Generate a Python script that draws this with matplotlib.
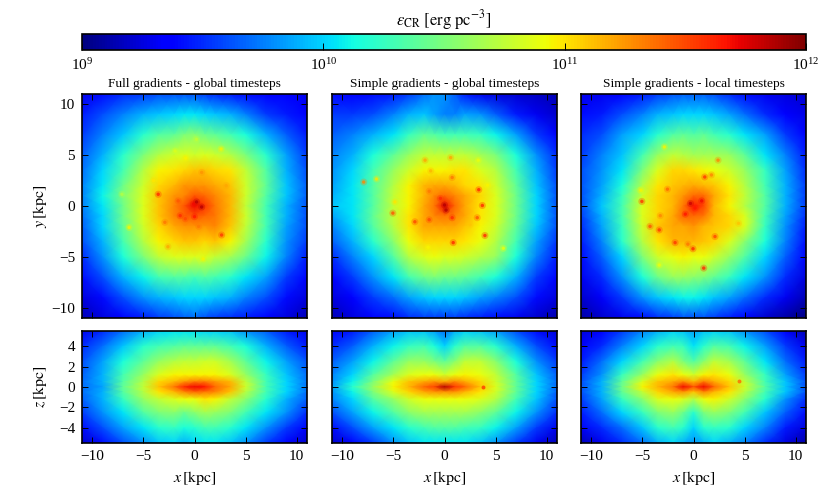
import numpy as np
import matplotlib
matplotlib.use("Agg")
import matplotlib.pyplot as plt
from matplotlib.colors import LogNorm, Normalize
from matplotlib.cm import ScalarMappable

plt.rcParams['font.family'] = ['Liberation Serif', 'DejaVu Serif']
plt.rcParams['mathtext.fontset'] = 'stix'
plt.rcParams['font.size'] = 11

titles = ["Full gradients - global timesteps", "Simple gradients - global timesteps", "Simple gradients - local timesteps"]

# grid nodes in kpc, values are log10(energy density)
x_nodes = [-11, -9, -7, -5, -3.5, -2, -1, 0, 1, 2, 3.5, 5, 7, 9, 11]
y_nodes = [11, 9, 7, 5, 3.5, 2, 1, 0, -1, -2, -3.5, -5, -7, -9, -11]
z_nodes = [5.5, 4, 2.5, 1.2, 0.5, 0, -0.5, -1.2, -2.5, -4, -5.5]

face_full = [
    [9.30, 9.40, 9.50, 9.55, 9.60, 9.62, 9.62, 9.62, 9.55, 9.50, 9.45, 9.40, 9.35, 9.35, 9.30],
    [9.45, 9.60, 9.75, 9.90, 9.95, 10.00, 10.05, 10.05, 10.00, 9.95, 9.90, 9.75, 9.55, 9.45, 9.35],
    [9.55, 9.75, 9.95, 10.20, 10.35, 10.40, 10.50, 10.55, 10.45, 10.40, 10.30, 10.15, 9.90, 9.65, 9.45],
    [9.65, 9.90, 10.20, 10.50, 10.70, 10.80, 10.85, 10.80, 10.85, 10.80, 10.70, 10.50, 10.20, 9.85, 9.55],
    [9.70, 10.00, 10.30, 10.70, 10.95, 11.00, 11.05, 11.10, 11.10, 11.05, 11.00, 10.75, 10.35, 9.90, 9.60],
    [9.75, 10.05, 10.45, 10.80, 11.05, 11.15, 11.25, 11.25, 11.25, 11.20, 11.10, 10.80, 10.40, 9.95, 9.65],
    [9.75, 10.10, 10.50, 10.85, 11.10, 11.25, 11.30, 11.45, 11.40, 11.30, 11.15, 10.80, 10.35, 9.95, 9.65],
    [9.75, 10.05, 10.45, 10.85, 11.10, 11.30, 11.45, 11.70, 11.55, 11.35, 11.15, 10.75, 10.30, 9.90, 9.62],
    [9.70, 10.00, 10.45, 10.85, 11.10, 11.30, 11.40, 11.45, 11.40, 11.35, 11.15, 10.80, 10.30, 9.90, 9.60],
    [9.65, 10.00, 10.40, 10.80, 11.05, 11.20, 11.25, 11.25, 11.25, 11.30, 11.10, 10.75, 10.30, 9.85, 9.60],
    [9.60, 9.90, 10.30, 10.70, 10.95, 11.05, 11.10, 11.10, 11.05, 11.10, 10.95, 10.65, 10.20, 9.80, 9.55],
    [9.50, 9.80, 10.15, 10.50, 10.75, 10.85, 10.85, 10.85, 10.85, 10.75, 10.65, 10.45, 10.10, 9.75, 9.45],
    [9.40, 9.60, 9.90, 10.10, 10.30, 10.35, 10.35, 10.30, 10.35, 10.30, 10.20, 10.05, 9.85, 9.55, 9.35],
    [9.25, 9.40, 9.60, 9.80, 9.90, 9.95, 10.00, 10.00, 10.00, 9.95, 9.90, 9.75, 9.60, 9.40, 9.25],
    [9.15, 9.25, 9.35, 9.45, 9.55, 9.60, 9.65, 9.70, 9.60, 9.55, 9.50, 9.45, 9.35, 9.25, 9.15],
]
face_simple_global = [
    [9.40, 9.35, 9.40, 9.45, 9.55, 9.70, 9.80, 9.80, 9.65, 9.45, 9.30, 9.25, 9.22, 9.18, 9.15],
    [9.55, 9.55, 9.60, 9.75, 9.90, 9.95, 9.85, 9.75, 9.75, 9.85, 9.80, 9.65, 9.45, 9.30, 9.20],
    [9.65, 9.75, 9.90, 10.05, 10.25, 10.40, 10.35, 10.30, 10.30, 10.30, 10.25, 10.10, 9.85, 9.55, 9.35],
    [9.75, 9.90, 10.15, 10.40, 10.60, 10.75, 10.75, 10.75, 10.75, 10.75, 10.65, 10.50, 10.15, 9.80, 9.50],
    [9.80, 10.00, 10.30, 10.60, 10.80, 10.95, 10.95, 10.95, 11.00, 11.00, 10.85, 10.70, 10.30, 9.90, 9.55],
    [9.85, 10.05, 10.35, 10.70, 10.95, 11.15, 11.20, 11.20, 11.15, 11.05, 11.00, 10.80, 10.40, 9.95, 9.60],
    [9.90, 10.05, 10.35, 10.75, 10.95, 11.15, 11.30, 11.40, 11.30, 11.20, 11.05, 10.85, 10.45, 10.00, 9.62],
    [9.95, 10.05, 10.35, 10.75, 10.95, 11.20, 11.35, 11.70, 11.40, 11.20, 11.00, 10.85, 10.45, 10.00, 9.62],
    [9.85, 10.05, 10.40, 10.75, 11.00, 11.20, 11.30, 11.35, 11.30, 11.20, 11.00, 10.85, 10.45, 10.00, 9.62],
    [9.75, 10.00, 10.35, 10.70, 11.00, 11.20, 11.20, 11.20, 11.20, 11.10, 10.95, 10.80, 10.40, 9.95, 9.60],
    [9.65, 9.90, 10.20, 10.55, 10.90, 11.05, 11.05, 11.05, 11.05, 11.00, 10.90, 10.70, 10.30, 9.85, 9.52],
    [9.50, 9.75, 10.00, 10.35, 10.70, 10.85, 10.90, 10.85, 10.85, 10.80, 10.70, 10.60, 10.15, 9.75, 9.45],
    [9.35, 9.55, 9.80, 10.05, 10.30, 10.45, 10.50, 10.45, 10.45, 10.40, 10.30, 10.15, 9.90, 9.55, 9.35],
    [9.25, 9.35, 9.55, 9.70, 9.85, 9.95, 10.00, 10.00, 10.00, 9.95, 9.85, 9.75, 9.60, 9.40, 9.25],
    [9.15, 9.25, 9.35, 9.40, 9.50, 9.55, 9.55, 9.55, 9.55, 9.50, 9.45, 9.40, 9.30, 9.20, 9.12],
]
face_simple_local = [
    [9.30, 9.30, 9.35, 9.45, 9.55, 9.62, 9.65, 9.65, 9.65, 9.60, 9.50, 9.40, 9.30, 9.25, 9.22],
    [9.40, 9.45, 9.60, 9.75, 9.90, 9.95, 10.00, 10.00, 10.00, 9.95, 9.85, 9.70, 9.50, 9.35, 9.28],
    [9.50, 9.60, 9.85, 10.00, 10.20, 10.35, 10.40, 10.35, 10.40, 10.30, 10.20, 10.05, 9.85, 9.55, 9.35],
    [9.55, 9.75, 9.95, 10.30, 10.60, 10.75, 10.70, 10.65, 10.65, 10.65, 10.60, 10.40, 10.05, 9.75, 9.45],
    [9.60, 9.80, 10.05, 10.50, 10.85, 11.05, 11.05, 11.00, 10.95, 10.90, 10.80, 10.60, 10.25, 9.85, 9.50],
    [9.62, 9.85, 10.15, 10.70, 11.00, 11.10, 11.15, 11.20, 11.15, 11.10, 10.95, 10.70, 10.30, 9.90, 9.55],
    [9.60, 9.90, 10.25, 10.80, 11.05, 11.15, 11.25, 11.40, 11.40, 11.20, 11.00, 10.75, 10.35, 9.90, 9.55],
    [9.60, 9.95, 10.30, 10.85, 11.05, 11.15, 11.35, 11.65, 11.50, 11.15, 10.95, 10.70, 10.35, 9.90, 9.55],
    [9.55, 9.90, 10.30, 10.85, 11.05, 11.20, 11.40, 11.40, 11.35, 11.15, 11.05, 10.85, 10.30, 9.85, 9.50],
    [9.50, 9.85, 10.25, 10.80, 11.10, 11.20, 11.20, 11.25, 11.15, 11.10, 11.05, 10.85, 10.25, 9.80, 9.45],
    [9.45, 9.75, 10.20, 10.70, 11.00, 11.15, 11.15, 11.15, 11.10, 11.05, 10.85, 10.55, 10.15, 9.75, 9.40],
    [9.40, 9.65, 10.00, 10.50, 10.80, 10.90, 10.95, 10.90, 10.90, 10.80, 10.60, 10.35, 10.00, 9.65, 9.35],
    [9.30, 9.50, 9.80, 10.15, 10.45, 10.60, 10.60, 10.55, 10.50, 10.40, 10.25, 10.05, 9.80, 9.50, 9.25],
    [9.20, 9.32, 9.55, 9.80, 9.95, 10.05, 10.10, 10.10, 10.05, 9.95, 9.85, 9.70, 9.50, 9.30, 9.15],
    [9.10, 9.20, 9.30, 9.40, 9.50, 9.55, 9.60, 9.60, 9.60, 9.55, 9.45, 9.35, 9.20, 9.10, 9.00],
]

edge_full = [
    [9.30, 9.50, 9.70, 9.90, 10.00, 10.05, 10.05, 10.05, 10.00, 10.00, 9.95, 9.80, 9.65, 9.45, 9.30],
    [9.50, 9.70, 9.95, 10.20, 10.30, 10.35, 10.40, 10.40, 10.40, 10.40, 10.30, 10.15, 9.90, 9.65, 9.45],
    [9.60, 9.85, 10.15, 10.40, 10.60, 10.70, 10.75, 10.75, 10.80, 10.80, 10.65, 10.40, 10.10, 9.85, 9.62],
    [9.65, 9.90, 10.30, 10.60, 10.85, 10.95, 10.95, 10.95, 10.95, 10.95, 10.85, 10.60, 10.25, 9.95, 9.70],
    [9.70, 9.90, 10.35, 10.70, 11.05, 11.15, 11.25, 11.35, 11.35, 11.25, 11.15, 10.75, 10.30, 10.00, 9.72],
    [9.70, 9.85, 10.40, 10.75, 11.10, 11.35, 11.60, 11.70, 11.65, 11.40, 11.20, 10.80, 10.30, 10.00, 9.72],
    [9.70, 9.90, 10.35, 10.70, 11.00, 11.15, 11.30, 11.40, 11.35, 11.30, 11.10, 10.70, 10.30, 10.00, 9.70],
    [9.65, 9.90, 10.25, 10.60, 10.75, 10.85, 10.90, 10.90, 11.00, 10.95, 10.75, 10.55, 10.20, 9.90, 9.65],
    [9.55, 9.80, 10.05, 10.35, 10.50, 10.55, 10.45, 10.55, 10.65, 10.60, 10.50, 10.30, 10.05, 9.80, 9.50],
    [9.40, 9.60, 9.85, 10.05, 10.20, 10.25, 10.15, 10.20, 10.30, 10.30, 10.20, 10.05, 9.80, 9.55, 9.35],
    [9.20, 9.40, 9.60, 9.80, 9.95, 10.00, 9.90, 10.00, 10.05, 10.05, 9.95, 9.80, 9.55, 9.35, 9.20],
]
edge_simple_global = [
    [9.35, 9.45, 9.65, 9.85, 9.95, 9.95, 9.85, 9.70, 9.90, 10.00, 9.95, 9.85, 9.60, 9.40, 9.25],
    [9.50, 9.65, 9.90, 10.10, 10.25, 10.30, 10.15, 10.00, 10.20, 10.35, 10.35, 10.20, 9.90, 9.60, 9.40],
    [9.65, 9.85, 10.10, 10.40, 10.60, 10.60, 10.50, 10.40, 10.55, 10.75, 10.75, 10.55, 10.15, 9.80, 9.55],
    [9.75, 10.00, 10.35, 10.65, 10.85, 10.90, 10.90, 10.80, 10.90, 10.95, 10.90, 10.75, 10.35, 9.95, 9.65],
    [9.80, 10.10, 10.50, 10.90, 11.10, 11.20, 11.25, 11.20, 11.30, 11.20, 11.05, 10.80, 10.40, 10.00, 9.68],
    [9.85, 10.20, 10.60, 10.95, 11.15, 11.40, 11.50, 11.85, 11.55, 11.40, 11.10, 10.85, 10.40, 10.00, 9.68],
    [9.80, 10.10, 10.50, 10.85, 11.05, 11.20, 11.25, 11.25, 11.25, 11.15, 11.00, 10.80, 10.40, 10.00, 9.65],
    [9.75, 10.00, 10.35, 10.60, 10.80, 10.90, 10.90, 10.90, 10.90, 10.90, 10.85, 10.70, 10.30, 9.95, 9.60],
    [9.60, 9.85, 10.10, 10.35, 10.55, 10.65, 10.65, 10.65, 10.65, 10.65, 10.55, 10.40, 10.10, 9.80, 9.50],
    [9.40, 9.60, 9.85, 10.05, 10.20, 10.30, 10.35, 10.35, 10.35, 10.30, 10.25, 10.10, 9.85, 9.55, 9.30],
    [9.20, 9.35, 9.55, 9.80, 9.95, 10.05, 10.05, 10.05, 10.05, 10.05, 9.95, 9.80, 9.55, 9.30, 9.15],
]
edge_simple_local = [
    [9.25, 9.35, 9.55, 9.75, 9.90, 10.00, 9.95, 9.85, 9.95, 10.00, 9.95, 9.80, 9.60, 9.35, 9.15],
    [9.35, 9.50, 9.75, 10.00, 10.20, 10.30, 10.25, 10.05, 10.20, 10.35, 10.30, 10.10, 9.85, 9.55, 9.30],
    [9.45, 9.70, 10.00, 10.30, 10.55, 10.70, 10.50, 10.35, 10.55, 10.75, 10.65, 10.40, 10.05, 9.70, 9.45],
    [9.55, 9.80, 10.25, 10.60, 10.90, 11.00, 10.90, 10.80, 10.95, 11.00, 10.90, 10.60, 10.25, 9.85, 9.55],
    [9.60, 9.90, 10.40, 10.85, 11.10, 11.20, 11.30, 11.15, 11.35, 11.20, 11.05, 10.75, 10.30, 9.95, 9.60],
    [9.62, 9.88, 10.45, 10.95, 11.15, 11.35, 11.70, 11.45, 11.70, 11.40, 11.10, 10.80, 10.35, 9.95, 9.60],
    [9.60, 9.90, 10.40, 10.75, 11.05, 11.20, 11.25, 11.10, 11.30, 11.15, 11.00, 10.70, 10.30, 9.95, 9.60],
    [9.55, 9.85, 10.25, 10.55, 10.85, 10.90, 10.85, 10.70, 10.90, 10.95, 10.80, 10.55, 10.20, 9.80, 9.50],
    [9.45, 9.70, 10.00, 10.25, 10.50, 10.60, 10.45, 10.20, 10.50, 10.60, 10.50, 10.30, 9.95, 9.65, 9.40],
    [9.32, 9.50, 9.70, 9.95, 10.20, 10.30, 10.20, 10.00, 10.20, 10.25, 10.20, 10.00, 9.75, 9.45, 9.25],
    [9.15, 9.30, 9.50, 9.70, 9.90, 10.00, 9.90, 9.80, 9.90, 10.00, 9.90, 9.75, 9.50, 9.25, 9.10],
]

# small bright knots: x, y, log10 value
knots_full_x = [-3.55, -6.4, 2.65, -2.6, -2.9, 0.85, 0.2, 2.6, -0.85, -1.9, -1.6, -1.4, 0.0, -0.9, 0.4, 0.7, 0.7, 3.1, -4.0, -7.1, 5.75, 0.2, 0.7, -0.1]
knots_full_y = [1.15, -2.1, -2.85, -4.0, -1.6, -5.2, 6.55, 5.6, 4.7, 5.4, 0.5, -0.95, -1.05, -1.25, -2.0, 1.65, 3.3, 2.0, 2.5, 1.15, 1.75, 0.4, -0.1, 0.2]
knots_full_v = [11.6, 10.95, 11.55, 11.2, 11.35, 10.95, 10.75, 10.95, 10.95, 10.85, 11.45, 11.6, 11.65, 11.5, 11.35, 11.3, 11.25, 11.2, 11.0, 10.7, 10.65, 11.85, 11.85, 11.7]
knots_global_x = [-7.9, -6.65, -1.9, 0.6, -1.35, 0.75, 3.3, 3.35, 3.7, 3.2, 3.95, 0.85, 2.5, -2.9, -1.5, -5.05, -4.85, 5.75, -1.5, -0.4, 0.75, 0.0, 0.15, -1.6, 4.2]
knots_global_y = [2.35, 2.65, 4.5, 4.75, 3.45, 2.8, 4.5, 1.6, 0.05, -1.15, -2.9, -3.6, -1.85, -1.55, -1.35, -0.7, 0.4, -4.15, 1.45, 0.75, -1.15, 0.1, -0.4, -4.05, 2.05]
knots_global_v = [11.3, 11.0, 11.2, 11.2, 11.15, 11.35, 10.9, 11.6, 11.6, 11.45, 11.6, 11.6, 11.1, 11.5, 11.5, 11.45, 11.0, 10.9, 11.35, 11.6, 11.6, 11.85, 11.85, 10.95, 10.95]
knots_local_x = [-5.05, -2.55, 1.1, 1.75, 2.4, -2.85, -3.25, -4.25, -3.35, -1.8, -0.55, -0.05, 2.1, 1.0, -3.35, -5.15, -0.8, -0.3, 0.8, 0.15, 4.4]
knots_local_y = [0.45, 1.65, 2.85, 3.05, 4.5, 5.8, -0.95, -2.0, -2.35, -3.6, -3.75, -4.2, -3.0, -6.1, -5.8, 1.55, -0.8, 0.25, 0.5, -0.2, -1.7]
knots_local_v = [11.55, 11.4, 11.55, 11.3, 11.3, 10.95, 11.3, 11.45, 11.55, 11.55, 11.35, 11.6, 11.5, 11.6, 10.9, 10.95, 11.65, 11.8, 11.7, 11.65, 11.1]
edge_knots_x = [None, 3.8, 4.4]
edge_knots_z = [None, 0.0, 0.55]
edge_knots_v = [None, 11.55, 11.4]

face_grids = [face_full, face_simple_global, face_simple_local]
edge_grids = [edge_full, edge_simple_global, edge_simple_local]
knots = [(knots_full_x, knots_full_y, knots_full_v), (knots_global_x, knots_global_y, knots_global_v), (knots_local_x, knots_local_y, knots_local_v)]

W, H = 830.0, 498.0
lefts = [82, 332, 581]
norm = Normalize(9, 12)

def style(ax):
    for s in ax.spines.values():
        s.set_linewidth(1.2)
    ax.tick_params(direction="in", top=True, right=True, length=4, width=0.7, pad=5, labelsize=11)
    ax.set_xlim(-11, 11)
    ax.set_xticks([-10, -5, 0, 5, 10])

fig = plt.figure(figsize=(8.3, 4.98), dpi=100)

for i in range(3):
    ax = fig.add_axes([lefts[i] / W, 1 - 318 / H, 225 / W, 224 / H])
    ax.pcolormesh(x_nodes, y_nodes, np.array(face_grids[i]), cmap="jet", norm=norm, shading="gouraud", rasterized=True)
    kx, ky, kv = knots[i]
    # soft halo then a small core for each knot
    ax.scatter(kx, ky, c=kv, cmap="jet", norm=norm, s=26, linewidths=0, alpha=0.3)
    ax.scatter(kx, ky, c=kv, cmap="jet", norm=norm, s=6, linewidths=0, alpha=0.8)
    style(ax)
    ax.set_ylim(-11, 11)
    ax.set_yticks([-10, -5, 0, 5, 10])
    ax.set_xticklabels([])
    ax.set_title(titles[i], fontsize=9.6, pad=5)
    if i == 0:
        ax.set_ylabel(r"$y\,[\mathrm{kpc}]$", fontsize=11.5)
        ax.yaxis.set_label_coords(-0.147, 0.5)
    else:
        ax.set_yticklabels([])

    ax2 = fig.add_axes([lefts[i] / W, 1 - 443 / H, 225 / W, 112 / H])
    ax2.pcolormesh(x_nodes, z_nodes, np.array(edge_grids[i]), cmap="jet", norm=norm, shading="gouraud", rasterized=True)
    if edge_knots_x[i] is not None:
        ax2.scatter([edge_knots_x[i]], [edge_knots_z[i]], c=[edge_knots_v[i]], cmap="jet", norm=norm, s=8, linewidths=0, alpha=0.8)
    style(ax2)
    ax2.set_ylim(-5.5, 5.5)
    ax2.set_yticks([-4, -2, 0, 2, 4])
    ax2.set_xlabel(r"$x\,[\mathrm{kpc}]$", fontsize=11.5)
    ax2.xaxis.set_label_coords(0.5, -0.235)
    if i == 0:
        ax2.set_ylabel(r"$z\,[\mathrm{kpc}]$", fontsize=11.5)
        ax2.yaxis.set_label_coords(-0.147, 0.5)
    else:
        ax2.set_yticklabels([])

cax = fig.add_axes([82 / W, 1 - 50 / H, 724 / W, 16 / H])
sm = ScalarMappable(norm=LogNorm(1e9, 1e12), cmap="jet")
cb = fig.colorbar(sm, cax=cax, orientation="horizontal")
cb.set_ticks([1e9, 1e10, 1e11, 1e12])
cb.minorticks_off()
cb.ax.tick_params(direction="in", length=5, width=0.7, pad=5, labelsize=11)
cb.outline.set_linewidth(1.2)
cb.ax.set_title(r"$\varepsilon_{\mathrm{CR}}\ [\mathrm{erg\ pc}^{-3}]$", fontsize=12, pad=6)

fig.savefig("out.png", dpi=100)
